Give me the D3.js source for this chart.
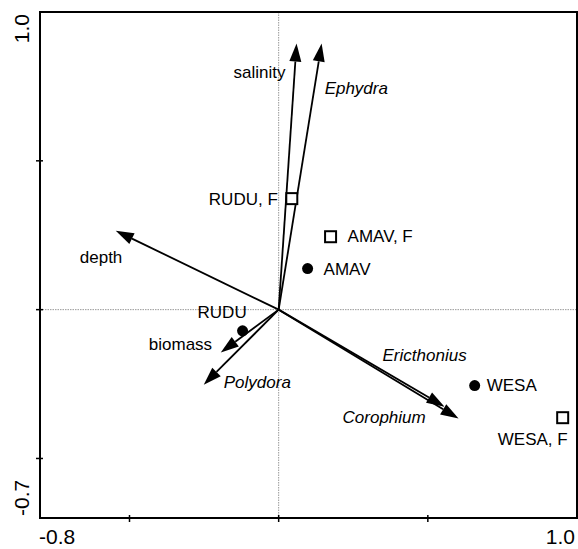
<!DOCTYPE html>
<html>
<head>
<meta charset="utf-8">
<script src="https://cdn.jsdelivr.net/npm/d3@7"></script>
<style>
  body { margin: 0; background: #fff; }
  svg { display: block; font-family: Arial, "Liberation Sans", sans-serif; }
</style>
</head>
<body>
<svg id="chart" width="578" height="549"></svg>
<script>
// environmental / species vectors (biplot arrows)
const vectorNames = ['salinity', 'Ephydra', 'depth', 'biomass', 'Polydora', 'Ericthonius', 'Corophium'];
const vectorX = [0.060, 0.144, -0.546, -0.194, -0.251, 0.556, 0.603];
const vectorY = [0.894, 0.894, 0.265, -0.144, -0.252, -0.326, -0.366];
const vectorItalic = [false, true, false, false, true, true, true];

// site scores
const siteNames = ['AMAV', 'RUDU', 'WESA', 'RUDU, F', 'AMAV, F', 'WESA, F'];
const siteX = [0.097, -0.121, 0.657, 0.044, 0.174, 0.952];
const siteY = [0.138, -0.071, -0.255, 0.373, 0.245, -0.363];
const siteType = ['circle', 'circle', 'circle', 'square', 'square', 'square'];

const xTicks = [-0.8, -0.5, 0, 0.5, 1.0];
const yTicks = [-0.7, -0.5, 0, 0.5, 1.0];

// label placement (pixel offsets from tip / marker)
const labelPos = {
  salinity: [-11, 34, 'end'],
  Ephydra: [3, 50, 'start'],
  depth: [-36, 32, 'start'],
  biomass: [-72, -3, 'start'],
  Polydora: [20, 3, 'start'],
  Ericthonius: [-62, -46, 'start'],
  Corophium: [-116, 4, 'start'],
  AMAV: [16, 6, 'start'],
  RUDU: [-45, -13, 'start'],
  WESA: [12, 5, 'start'],
  'RUDU, F': [-14, 6, 'end'],
  'AMAV, F': [17, 5, 'start'],
  'WESA, F': [5, 27, 'end'],
};

const svg = d3.select('#chart');
const mLeft = 40, mRight = 577, mTop = 12, mBottom = 518;

const x = d3.scaleLinear().domain([-0.8, 1.0]).range([mLeft, mRight]);
const y = d3.scaleLinear().domain([-0.7, 1.0]).range([mBottom, mTop]);

// zero lines
svg.append('line')
  .attr('x1', x(0)).attr('x2', x(0)).attr('y1', mTop).attr('y2', mBottom)
  .attr('stroke', '#999').attr('stroke-width', 1).attr('stroke-dasharray', '1.5,1');
svg.append('line')
  .attr('x1', mLeft).attr('x2', mRight).attr('y1', y(0)).attr('y2', y(0))
  .attr('stroke', '#999').attr('stroke-width', 1).attr('stroke-dasharray', '1.5,1');

// frame
svg.append('rect')
  .attr('x', mLeft).attr('y', mTop).attr('width', mRight - mLeft).attr('height', mBottom - mTop)
  .attr('fill', 'none').attr('stroke', '#000').attr('stroke-width', 2);

// ticks (crossing the axis)
svg.selectAll('.xt').data(xTicks.slice(1, -1)).join('line')
  .attr('x1', (d) => x(d)).attr('x2', (d) => x(d))
  .attr('y1', mBottom - 3).attr('y2', mBottom + 4)
  .attr('stroke', '#000').attr('stroke-width', 1.5);
svg.selectAll('.yt').data(yTicks.slice(1, -1)).join('line')
  .attr('y1', (d) => y(d)).attr('y2', (d) => y(d))
  .attr('x1', mLeft - 4).attr('x2', mLeft + 3)
  .attr('stroke', '#000').attr('stroke-width', 1.5);

// end tick labels
const fmt = (v) => v.toFixed(1);
svg.append('text').attr('x', mLeft - 1).attr('y', 544).attr('font-size', 21)
  .attr('text-anchor', 'start').text(fmt(xTicks[0]));
svg.append('text').attr('x', mRight - 2).attr('y', 544).attr('font-size', 21)
  .attr('text-anchor', 'end').text(fmt(xTicks[xTicks.length - 1]));
svg.append('text').attr('transform', `translate(29,${mTop + 2}) rotate(-90)`)
  .attr('font-size', 21).attr('text-anchor', 'end').text(fmt(yTicks[yTicks.length - 1]));
svg.append('text').attr('transform', `translate(29,${mBottom - 2}) rotate(-90)`)
  .attr('font-size', 21).attr('text-anchor', 'start').text(fmt(yTicks[0]));

// arrows
const ox = x(0), oy = y(0);
const headLen = 18, headHalf = 6;
vectorNames.forEach((name, i) => {
  const tx = x(vectorX[i]), ty = y(vectorY[i]);
  const ang = Math.atan2(ty - oy, tx - ox);
  const bx = tx - headLen * Math.cos(ang), by = ty - headLen * Math.sin(ang);
  svg.append('line')
    .attr('x1', ox).attr('y1', oy).attr('x2', bx).attr('y2', by)
    .attr('stroke', '#000').attr('stroke-width', 1.8);
  const px = -Math.sin(ang) * headHalf, py = Math.cos(ang) * headHalf;
  svg.append('polygon')
    .attr('points', [[tx, ty], [bx + px, by + py], [bx - px, by - py]].map((p) => p.join(',')).join(' '))
    .attr('fill', '#000');
  const lp = labelPos[name];
  svg.append('text')
    .attr('x', tx + lp[0]).attr('y', ty + lp[1])
    .attr('text-anchor', lp[2])
    .attr('font-size', 17)
    .attr('font-style', vectorItalic[i] ? 'italic' : 'normal')
    .text(name);
});

// sites
siteNames.forEach((name, i) => {
  const cx = x(siteX[i]), cy = y(siteY[i]);
  if (siteType[i] === 'circle') {
    svg.append('circle').attr('cx', cx).attr('cy', cy).attr('r', 5.5).attr('fill', '#000');
  } else {
    svg.append('rect').attr('x', cx - 5.5).attr('y', cy - 5.5).attr('width', 11).attr('height', 11)
      .attr('fill', '#fff').attr('stroke', '#000').attr('stroke-width', 2);
  }
  const lp = labelPos[name];
  svg.append('text')
    .attr('x', cx + lp[0]).attr('y', cy + lp[1])
    .attr('text-anchor', lp[2])
    .attr('font-size', 17)
    .text(name);
});
</script>
</body>
</html>
